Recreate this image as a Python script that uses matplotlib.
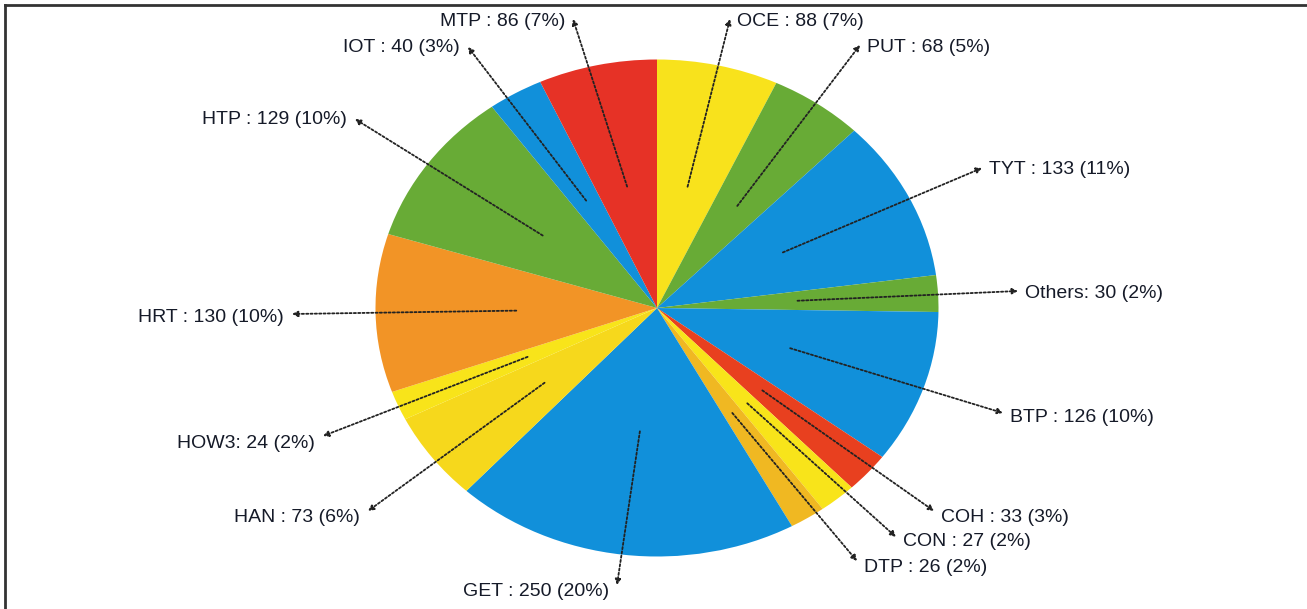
import numpy as np
import matplotlib
matplotlib.use("Agg")
from matplotlib import pyplot as plt
from matplotlib.lines import Line2D

# data, clockwise from 12 o'clock
names = ["OCE", "PUT", "TYT", "Others", "BTP", "COH", "CON", "DTP",
         "GET", "HAN", "HOW3", "HRT", "HTP", "IOT", "MTP"]
counts = [88, 68, 133, 30, 126, 33, 27, 26, 250, 73, 24, 130, 129, 40, 86]
pcts = [7, 5, 11, 2, 10, 3, 2, 2, 20, 6, 2, 10, 10, 3, 7]
seps = [" : ", " : ", " : ", ": ", " : ", " : ", " : ", " : ",
        " : ", " : ", ": ", " : ", " : ", " : ", " : "]

colors = ["#F8E21C", "#68AB36", "#1190DA", "#68AB36", "#1190DA", "#E8401F",
          "#F8E41A", "#F0B822", "#1190DA", "#F6D81C", "#F8E41A", "#F29426",
          "#68AB36", "#1190DA", "#E63226"]

# label arrow tips (pixels from top-left), text centre y and text side
tips = [(730, 19), (860, 45), (982, 168), (1018, 291), (1003, 413),
        (934, 511), (896, 537), (857, 561), (617, 585), (368, 511),
        (323, 436), (292, 314), (355, 119), (468, 47), (573, 19)]
text_y = [21, 47, 170, 294, 417, 518, 542, 567, 592, 517,
          443, 318, 120, 47, 21]
sides = ["l", "l", "l", "l", "l", "l", "l", "l", "r", "r", "r", "r", "r", "r", "r"]

W, H = 1307, 609
cx, cy = 657, 308
rx, ry = 281.5, 248.5

fig = plt.figure(figsize=(W / 100, H / 100), dpi=100)
ax = fig.add_axes([0, 0, 1, 1])
ax.pie(counts, colors=colors, startangle=90, counterclock=False, radius=1,
       wedgeprops=dict(linewidth=0))
ax.set_aspect("auto")
ax.set_xlim(-cx / rx, (W - cx) / rx)
ax.set_ylim(-(H - cy) / ry, cy / ry)
ax.axis("off")

total = float(sum(counts))
cum = np.cumsum(counts) - np.array(counts) / 2.0
for i in range(len(names)):
    th = np.deg2rad(90 - cum[i] / total * 360)
    sx, sy = 0.5 * np.cos(th), 0.5 * np.sin(th)
    tx, ty = tips[i]
    ax.annotate("", xy=(tx, H - ty), xycoords="figure pixels",
                xytext=(sx, sy), textcoords="data",
                arrowprops=dict(arrowstyle="-|>", color="#222222", lw=1.3,
                                linestyle=(0, (1.2, 1.2)), shrinkA=0, shrinkB=0,
                                mutation_scale=8))
    label = names[i] + seps[i] + str(counts[i]) + " (" + str(pcts[i]) + "%)"
    if sides[i] == "l":
        fig.text((tx + 7) / W, (H - text_y[i]) / H, label, ha="left", va="center",
                 fontsize=14, family="Liberation Sans", color="#151a28")
    else:
        fig.text((tx - 8) / W, (H - text_y[i]) / H, label, ha="right", va="center",
                 fontsize=14, family="Liberation Sans", color="#151a28")

# scanned frame (top and left edges)
fig.add_artist(Line2D([5 / W, 1], [1 - 5 / H, 1 - 5 / H], color="#333333", lw=2))
fig.add_artist(Line2D([5 / W, 5 / W], [0, 1 - 5 / H], color="#333333", lw=2))

fig.savefig("out.png", dpi=100, facecolor="white")
